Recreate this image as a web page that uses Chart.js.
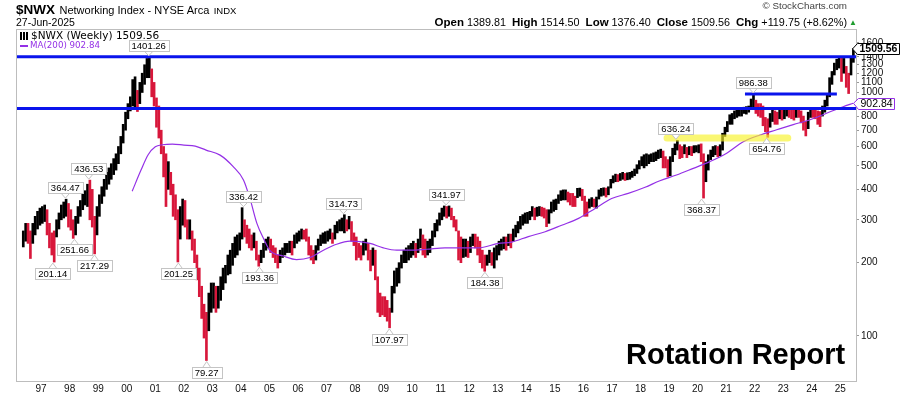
<!DOCTYPE html>
<html>
<head>
<meta charset="utf-8">
<title>$NWX Networking Index</title>
<script src="https://cdn.jsdelivr.net/npm/chart.js@4.4.1/dist/chart.umd.min.js"></script>
<style>
    html, body { margin: 0; padding: 0; background: #fff; }
    #contenedor { position: relative; width: 900px; height: 396px; overflow: hidden; font-family: "Liberation Sans", Arial, sans-serif; color: #000; }
    #grafico { position: absolute; left: 0; top: 0; }
    .txt { position: absolute; white-space: nowrap; }
    #titulo { left: 16px; top: 1px; line-height: 15px; }
    #titulo b { font-size: 13.5px; }
    #titulo .nombre { font-size: 11px; }
    #titulo .indx { font-size: 9.5px; }
    #fecha { left: 16px; top: 16px; font-size: 10.5px; line-height: 12px; }
    #precios { right: 53px; top: 16px; font-size: 10.8px; line-height: 12px; }
    #precios b { font-size: 11.5px; }
    #flecha { left: 849px; top: 17px; font-size: 8px; color: #1f9d2f; line-height: 12px; }
    #marca { right: 53px; top: 0px; font-size: 9.8px; color: #444; line-height: 12px; }
    #leyenda1 { left: 20px; top: 29px; font-family: "DejaVu Sans", Verdana, sans-serif; font-size: 10.5px; line-height: 12px; }
    #leyenda2 { left: 20px; top: 40px; font-family: "DejaVu Sans", Verdana, sans-serif; font-size: 8.7px; line-height: 11px; color: #9430e6; }
    .icono { display: inline-block; width: 9px; height: 8px; margin-right: 2px; vertical-align: -1px;
             background: repeating-linear-gradient(90deg, #000 0 2px, transparent 2px 3px); }
    .guion { display: inline-block; width: 8px; height: 2px; background: #9430e6; vertical-align: middle; margin-right: 2px; }
    #rotacion { left: 626px; top: 337px; font-size: 29px; font-weight: bold; line-height: 34px; }
</style>
</head>
<body>
<div id="contenedor">
    <canvas id="grafico" width="900" height="396"></canvas>
    <div class="txt" id="titulo"><b>$NWX</b> <span class="nombre">Networking Index - NYSE Arca</span> <span class="indx">INDX</span></div>
    <div class="txt" id="fecha">27-Jun-2025</div>
    <div class="txt" id="marca">&copy; StockCharts.com</div>
    <div class="txt" id="precios"><b>Open</b> 1389.81&nbsp; <b>High</b> 1514.50&nbsp; <b>Low</b> 1376.40&nbsp; <b>Close</b> 1509.56&nbsp; <b>Chg</b> +119.75 (+8.62%)</div>
    <div class="txt" id="flecha">&#9650;</div>
    <div class="txt" id="leyenda1"><span class="icono"></span>$NWX (Weekly) 1509.56</div>
    <div class="txt" id="leyenda2"><span class="guion"></span>MA(200) 902.84</div>
    <div class="txt" id="rotacion">Rotation Report</div>
</div>
<script>
// meses desde mayo 1996 hasta junio 2025 (maximo / minimo de cada mes)
const inicioAnio = 1996
const inicioMes = 5

const maximos = [
    270, 290, 290, 270, 290, 310, 325, 335,                                  // 1996
    340, 345, 330, 290, 265, 270, 300, 320, 345, 355, 364.47, 350,           // 1997
    330, 300, 310, 340, 360, 385, 395, 420, 436.53, 400, 310, 340,           // 1998
    380, 410, 440, 470, 490, 510, 535, 560, 600, 660, 740, 830,              // 1999
    900, 960, 1130, 1160, 1020, 1100, 1200, 1300, 1380, 1401.26, 1250, 1100, // 2000
    950, 880, 700, 600, 560, 520, 470, 420, 380, 330, 340, 365,              // 2001
    360, 300, 300, 270, 250, 215, 190, 160, 135, 125, 150, 165,              // 2002
    165, 160, 160, 175, 190, 195, 215, 225, 240, 255, 260, 265,              // 2003
    336.42, 300, 285, 275, 260, 265, 245, 215, 225, 240, 250, 255,           // 2004
    250, 235, 230, 215, 225, 230, 240, 240, 245, 245, 260, 265,              // 2005
    270, 275, 272, 275, 255, 235, 225, 235, 250, 260, 265, 268,              // 2006
    270, 275, 265, 285, 295, 300, 305, 314.73, 300, 310, 295, 265,           // 2007
    255, 240, 235, 245, 250, 240, 225, 230, 225, 175, 150, 145,              // 2008
    145, 140, 130, 160, 185, 190, 200, 215, 225, 230, 235, 240,              // 2009
    245, 240, 250, 275, 260, 250, 245, 250, 270, 290, 300, 320,              // 2010
    335, 342, 340, 341.97, 335, 310, 300, 270, 255, 250, 250, 245,           // 2011
    255, 262, 262, 255, 245, 225, 215, 215, 225, 220, 230, 235,              // 2012
    245, 250, 255, 255, 262, 262, 275, 285, 295, 310, 315, 320,              // 2013
    322, 325, 340, 335, 338, 340, 338, 335, 330, 330, 355, 362,              // 2014
    365, 380, 395, 398, 398, 390, 385, 385, 375, 404, 405, 400,              // 2015
    375, 355, 365, 370, 365, 372, 398, 404, 406, 405, 410, 440,              // 2016
    455, 462, 460, 465, 470, 465, 468, 470, 475, 485, 505, 525,              // 2017
    545, 555, 560, 555, 560, 565, 570, 580, 585, 575, 545, 530,              // 2018
    545, 590, 615, 636.24, 610, 600, 610, 595, 600, 600, 605, 605,           // 2019
    610, 615, 560, 520, 555, 580, 600, 605, 600, 610, 680, 720,              // 2020
    760, 810, 820, 840, 850, 860, 865, 870, 875, 880, 940, 986.38,           // 2021
    930, 900, 900, 880, 790, 780, 820, 850, 840, 830, 860, 850,              // 2022
    850, 860, 855, 850, 855, 865, 860, 840, 800, 760, 830, 855,              // 2023
    850, 845, 840, 835, 880, 930, 990, 1150, 1220, 1320, 1370, 1400,         // 2024
    1400, 1380, 1280, 1200, 1400, 1514.5                                     // 2025
]

const minimos = [
    232, 245, 240, 208, 240, 260, 275, 285,                                  // 1996
    290, 295, 260, 230, 215, 201.14, 255, 275, 300, 305, 310, 280,           // 1997
    272, 251.66, 260, 290, 310, 330, 345, 340, 300, 280, 217.29, 260,        // 1998
    310, 350, 375, 400, 420, 440, 460, 480, 510, 560, 620, 700,              // 1999
    780, 840, 880, 860, 835, 900, 1000, 1080, 1150, 1150, 960, 880,          // 2000
    720, 650, 560, 450, 340, 400, 380, 310, 300, 201.25, 250, 285,           // 2001
    280, 250, 250, 225, 200, 170, 145, 118, 98, 79.27, 105, 125,             // 2002
    130, 125, 130, 140, 155, 165, 178, 180, 195, 210, 215, 225,              // 2003
    250, 255, 240, 230, 225, 230, 205, 193.36, 200, 210, 225, 230,           // 2004
    220, 210, 200, 190, 200, 210, 215, 220, 220, 215, 230, 240,              // 2005
    245, 250, 250, 245, 215, 205, 198, 205, 225, 235, 240, 240,              // 2006
    245, 250, 240, 250, 265, 270, 270, 265, 270, 275, 245, 235,              // 2007
    205, 210, 205, 215, 225, 205, 185, 195, 170, 125, 120, 122,              // 2008
    120, 115, 107.97, 125, 150, 160, 165, 190, 200, 200, 205, 210,           // 2009
    215, 210, 220, 230, 215, 210, 215, 220, 235, 255, 270, 285,              // 2010
    300, 310, 305, 310, 300, 280, 270, 205, 200, 210, 212, 210,              // 2011
    220, 235, 230, 215, 200, 190, 184.38, 195, 200, 195, 190, 205,           // 2012
    215, 225, 228, 225, 235, 230, 245, 255, 265, 275, 285, 290,              // 2013
    290, 300, 310, 300, 310, 312, 310, 305, 281, 290, 320, 325,              // 2014
    330, 350, 360, 362, 362, 355, 345, 340, 340, 370, 375, 360,              // 2015
    310, 310, 335, 340, 338, 335, 365, 375, 378, 372, 380, 405,              // 2016
    425, 430, 430, 435, 440, 435, 438, 440, 448, 455, 465, 485,              // 2017
    500, 490, 500, 510, 520, 520, 525, 535, 540, 490, 490, 450,              // 2018
    455, 520, 555, 580, 535, 540, 560, 540, 555, 550, 565, 570,              // 2019
    565, 520, 368.37, 430, 480, 530, 545, 555, 545, 550, 580, 660,           // 2020
    690, 740, 740, 780, 790, 800, 800, 820, 815, 830, 850, 860,              // 2021
    820, 800, 790, 730, 690, 654.76, 720, 760, 740, 740, 780, 770,           // 2022
    780, 800, 790, 780, 770, 790, 790, 750, 700, 663, 710, 790,              // 2023
    790, 780, 740, 724, 800, 830, 880, 960, 1080, 1180, 1240, 1260,          // 2024
    1110, 1200, 1050, 990, 1180, 1330                                        // 2025
]

// media movil de 200 semanas
const mediaFechas = [2000.19, 2000.5, 2000.75, 2001.0, 2001.25, 2001.6, 2002.0, 2002.4, 2002.78, 2003.27,
    2003.73, 2004.09, 2004.33, 2004.56, 2004.8, 2005.02, 2005.49, 2005.95, 2006.42, 2006.89,
    2007.35, 2007.82, 2008.52, 2008.99, 2009.46, 2009.92, 2010.51, 2011.15, 2011.8, 2012.32,
    2013.02, 2013.49, 2014.07, 2014.66, 2015.24, 2015.83, 2016.41, 2016.99, 2017.57, 2018.16,
    2018.68, 2019.26, 2019.85, 2020.43, 2021.02, 2021.6, 2022.19, 2022.77, 2023.35, 2023.94,
    2024.52, 2025.1, 2025.45]
const mediaValores = [393, 480, 555, 598, 610, 614, 608, 602, 580, 553,
    496, 437, 362, 290, 250, 224, 213, 206, 210, 225,
    238, 245, 240, 230, 225, 225, 227, 230, 230, 230,
    240, 243, 256, 268, 285, 304, 334, 367, 385, 408,
    434, 458, 488, 520, 563, 627, 669, 703, 738, 773,
    822, 874, 902.84]

// etiquetas de maximos y minimos
const fechasAltas = [1997.85, 1998.67, 2000.77, 2004.09, 2007.59, 2011.19, 2019.24, 2021.95]
const valoresAltas = [364.47, 436.53, 1401.26, 336.42, 314.73, 341.97, 636.24, 986.38]
const fechasBajas = [1997.41, 1998.17, 1998.87, 2001.81, 2002.8, 2004.65, 2009.2, 2012.55, 2020.14, 2022.42]
const valoresBajas = [201.14, 251.66, 217.29, 201.25, 79.27, 193.36, 107.97, 184.38, 368.37, 654.76]

// lineas azules y franja amarilla
const nivelTecho = 1401.26
const nivelSoporte = 860
const nivelRuptura = 986.38
const rupturaDesde = 2021.66
const rupturaHasta = 2024.88
const nivelFranja = 650
const franjaDesde = 2018.93
const franjaHasta = 2023.16

const ultimoCierre = 1509.56
const ultimaMedia = 902.84

const ticksY = [100, 200, 300, 400, 500, 600, 700, 800, 1000, 1100, 1200, 1300, 1400, 1600]
const aniosEje = [1997, 1998, 1999, 2000, 2001, 2002, 2003, 2004, 2005, 2006, 2007, 2008, 2009, 2010,
    2011, 2012, 2013, 2014, 2015, 2016, 2017, 2018, 2019, 2020, 2021, 2022, 2023, 2024, 2025]
const etiquetasAnios = ['97', '98', '99', '00', '01', '02', '03', '04', '05', '06', '07', '08', '09', '10',
    '11', '12', '13', '14', '15', '16', '17', '18', '19', '20', '21', '22', '23', '24', '25']

const X_MIN = 1996.12
const X_MAX = 2025.55

const negro = '#000000'
const rojo = '#d8173b'
const azul = '#0a14ec'
const morado = '#9430e6'

const fechaMes = (i) => inicioAnio + (inicioMes - 1 + i + 0.5) / 12

const barras = maximos.map((alto, i) => ({ x: fechaMes(i), y: [minimos[i], alto] }))
const colores = maximos.map((alto, i) => {
    if (i === 0) return negro
    return (alto + minimos[i]) < (maximos[i - 1] + minimos[i - 1]) ? rojo : negro
})
const media = mediaFechas.map((f, i) => ({ x: f, y: mediaValores[i] }))

function dibujarEtiqueta(ctx, px, py, texto, arriba) {
    const w = Math.round(ctx.measureText(texto).width) + 6
    const h = 11
    const x0 = Math.round(px - w / 2) + 0.5
    const y0 = arriba ? Math.round(py - 6 - h) + 0.5 : Math.round(py + 6) + 0.5
    const base = arriba ? y0 + h : y0
    const punta = arriba ? py - 1 : py + 1

    ctx.fillStyle = '#fff'
    ctx.strokeStyle = '#c4c4c4'
    ctx.lineWidth = 1
    ctx.beginPath()
    ctx.moveTo(px - 4, base)
    ctx.lineTo(px, punta)
    ctx.lineTo(px + 4, base)
    ctx.fill()
    ctx.stroke()

    ctx.fillRect(x0, y0, w, h)
    ctx.strokeRect(x0, y0, w, h)
    ctx.fillStyle = '#000'
    ctx.fillText(texto, px, y0 + h / 2 + 0.5)
}

function dibujarValorEje(ctx, xIzq, py, texto, borde, negrita) {
    ctx.font = (negrita ? 'bold ' : '') + '10.5px "Liberation Sans", Arial, sans-serif'
    const w = Math.round(ctx.measureText(texto).width) + 4
    const h = 11
    const x0 = xIzq + 0.5
    const y0 = Math.round(py - h / 2) + 0.5
    ctx.fillStyle = '#fff'
    ctx.strokeStyle = borde
    ctx.lineWidth = 1
    ctx.beginPath()
    ctx.moveTo(x0, y0)
    ctx.lineTo(x0 - 5, py)
    ctx.lineTo(x0, y0 + h)
    ctx.lineTo(x0 + w, y0 + h)
    ctx.lineTo(x0 + w, y0)
    ctx.closePath()
    ctx.fill()
    ctx.stroke()
    ctx.fillStyle = '#000'
    ctx.textAlign = 'left'
    ctx.textBaseline = 'middle'
    ctx.fillText(texto, x0 + 2, py + 0.5)
}

const pluginMarcas = {
    id: 'marcas',
    afterDraw(chart) {
        const { ctx, chartArea: a, scales: { x, y } } = chart
        ctx.save()

        ctx.strokeStyle = '#bdbdbd'
        ctx.lineWidth = 1
        ctx.strokeRect(a.left + 0.5, a.top + 0.5, a.right - a.left, a.bottom - a.top)

        ctx.font = '9.5px "Liberation Sans", Arial, sans-serif'
        ctx.textAlign = 'center'
        ctx.textBaseline = 'middle'
        fechasAltas.forEach((f, i) => {
            dibujarEtiqueta(ctx, x.getPixelForValue(f), y.getPixelForValue(valoresAltas[i]), valoresAltas[i].toFixed(2), true)
        })
        fechasBajas.forEach((f, i) => {
            dibujarEtiqueta(ctx, x.getPixelForValue(f), y.getPixelForValue(valoresBajas[i]), valoresBajas[i].toFixed(2), false)
        })

        dibujarValorEje(ctx, a.right + 2, y.getPixelForValue(ultimaMedia), ultimaMedia.toFixed(2), morado, false)
        dibujarValorEje(ctx, a.right + 1, y.getPixelForValue(ultimoCierre), ultimoCierre.toFixed(2), '#000', true)

        ctx.restore()
    }
}

const lineaNivel = (desde, hasta, valor, color, ancho, extra) => Object.assign({
    type: 'line',
    data: [{ x: desde, y: valor }, { x: hasta, y: valor }],
    borderColor: color,
    borderWidth: ancho,
    pointRadius: 0,
    fill: false
}, extra)

new Chart(document.getElementById('grafico').getContext('2d'), {
    type: 'bar',
    data: {
        datasets: [
            lineaNivel(franjaDesde, franjaHasta, nivelFranja, 'rgba(248, 242, 40, 0.65)', 7, { borderCapStyle: 'round', order: 0 }),
            lineaNivel(X_MIN, X_MAX, nivelTecho, azul, 3, { order: 1 }),
            lineaNivel(X_MIN, X_MAX, nivelSoporte, azul, 3, { order: 1 }),
            lineaNivel(rupturaDesde, rupturaHasta, nivelRuptura, azul, 3, { order: 1 }),
            {
                type: 'line',
                data: media,
                borderColor: morado,
                borderWidth: 1.2,
                pointRadius: 0,
                cubicInterpolationMode: 'monotone',
                order: 2
            },
            {
                type: 'bar',
                data: barras,
                backgroundColor: colores,
                borderWidth: 0,
                barThickness: 2,
                grouped: false,
                order: 3
            }
        ]
    },
    plugins: [pluginMarcas],
    options: {
        responsive: false,
        animation: false,
        devicePixelRatio: 1,
        layout: { padding: { left: 16, top: 29, right: 0, bottom: 0 } },
        plugins: {
            legend: { display: false },
            tooltip: { enabled: false },
            title: { display: false }
        },
        scales: {
            x: {
                type: 'linear',
                offset: false,
                min: X_MIN,
                max: X_MAX,
                afterBuildTicks: (escala) => { escala.ticks = aniosEje.map(v => ({ value: v })) },
                afterFit: (escala) => { escala.height = 15 },
                grid: { display: false, drawTicks: false, tickLength: 0 },
                border: { display: false },
                ticks: {
                    autoSkip: false,
                    maxRotation: 0,
                    padding: 2,
                    color: '#111',
                    font: { size: 10, family: '"Liberation Sans", Arial, sans-serif' },
                    callback: (v, i) => etiquetasAnios[i]
                }
            },
            y: {
                type: 'logarithmic',
                position: 'right',
                min: 65.3,
                max: 1823,
                afterBuildTicks: (escala) => { escala.ticks = ticksY.map(v => ({ value: v })) },
                afterFit: (escala) => { escala.width = 44 },
                grid: { drawOnChartArea: false, drawTicks: true, tickLength: 3, color: '#999' },
                border: { display: false },
                ticks: {
                    autoSkip: false,
                    padding: 2,
                    color: '#111',
                    font: { size: 10, family: '"Liberation Sans", Arial, sans-serif' },
                    callback: (v) => String(v)
                }
            }
        }
    }
})
</script>
</body>
</html>
